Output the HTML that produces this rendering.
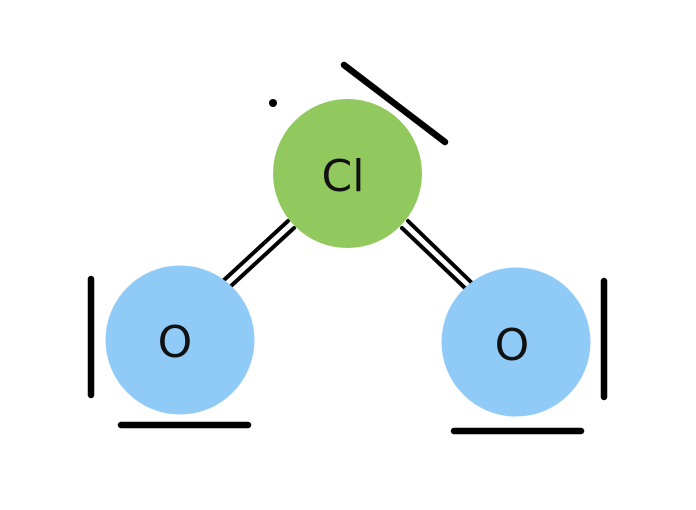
<!DOCTYPE html>
<html><head><style>html,body{margin:0;padding:0;background:#fff;}svg{display:block}</style></head>
<body>
<svg width="696" height="510" viewBox="0 0 696 510" xmlns="http://www.w3.org/2000/svg">
<rect width="696" height="510" fill="#fff"/>
<g stroke="#000" stroke-width="4" stroke-linecap="round">
<line x1="224" y1="280" x2="288" y2="221"/>
<line x1="231" y1="286" x2="294" y2="228"/>
<line x1="402" y1="228" x2="466" y2="289"/>
<line x1="408" y1="221" x2="472" y2="283"/>
</g>
<circle cx="347.5" cy="173.5" r="74.5" fill="#92c95e"/>
<circle cx="180" cy="340" r="74.5" fill="#90caf7"/>
<circle cx="516" cy="342" r="74.5" fill="#90caf7"/>
<g stroke="#000" stroke-width="6.5" stroke-linecap="round">
<line x1="344" y1="65" x2="445" y2="142"/>
<line x1="91" y1="279" x2="91" y2="395"/>
<line x1="121" y1="425" x2="248" y2="425"/>
<line x1="604" y1="281" x2="604" y2="397"/>
<line x1="454" y1="431" x2="581" y2="431"/>
</g>
<circle cx="273" cy="103" r="4" fill="#000"/>
<g font-family="'DejaVu Sans','Liberation Sans',sans-serif" font-size="44" fill="#111" text-anchor="middle">
<text x="343" y="191">Cl</text>
<text x="175" y="357">O</text>
<text x="512" y="360">O</text>
</g>
</svg>
</body></html>
